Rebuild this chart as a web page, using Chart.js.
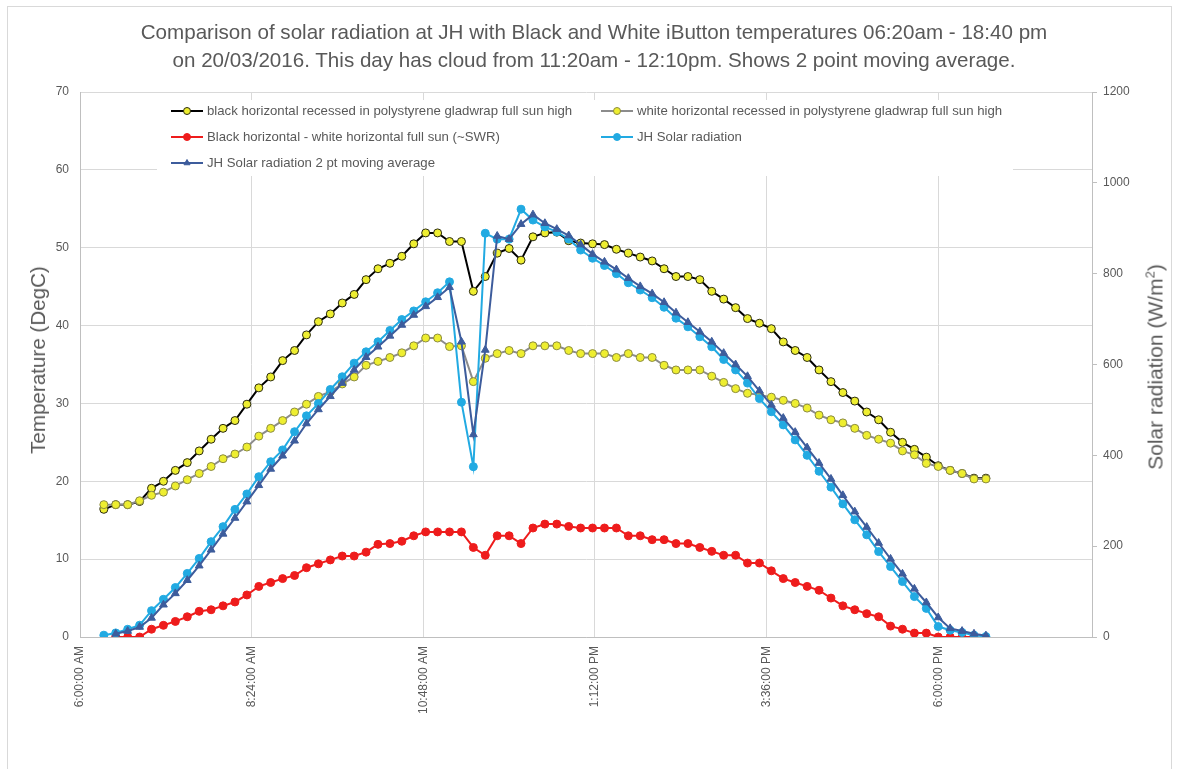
<!DOCTYPE html>
<html><head><meta charset="utf-8">
<script src="https://cdn.jsdelivr.net/npm/chart.js@4.4.1/dist/chart.umd.min.js"></script>
<style>
html,body{margin:0;padding:0;background:#fff;}
#wrap{position:relative;width:1178px;height:769px;overflow:hidden;background:#fff;}
#frame{position:absolute;left:7px;top:6px;width:1165px;height:770px;border:1px solid #d9d9d9;box-sizing:border-box;}
#c{position:absolute;left:0;top:0;}
.t{position:absolute;left:0;width:1188px;text-align:center;font-family:"Liberation Sans",Arial,sans-serif;font-size:20.6px;color:#595959;white-space:nowrap;line-height:28px;}
.ax{position:absolute;font-family:"Liberation Sans",Arial,sans-serif;font-size:20.6px;color:#595959;white-space:nowrap;transform:translate(-50%,-50%) rotate(-90deg);}
.ax sup{font-size:13px;}
</style></head>
<body><div id="wrap">
<div id="frame"></div>
<canvas id="c" width="1178" height="769"></canvas>
<div class="t" style="top:18px">Comparison of solar radiation at JH with Black and White iButton temperatures 06:20am - 18:40 pm</div>
<div class="t" style="top:46px">on 20/03/2016. This day has cloud from 11:20am - 12:10pm. Shows 2 point moving average.</div>
<div class="ax" style="left:38px;top:360px">Temperature (DegC)</div>
<div class="ax" style="left:1155px;top:367px;font-size:21px">Solar radiation (W/m<sup>2</sup>)</div>
</div>
<script>
const times = ["6:20","6:30","6:40","6:50",
"7:00","7:10","7:20","7:30","7:40","7:50",
"8:00","8:10","8:20","8:30","8:40","8:50",
"9:00","9:10","9:20","9:30","9:40","9:50",
"10:00","10:10","10:20","10:30","10:40","10:50",
"11:00","11:10","11:20","11:30","11:40","11:50",
"12:00","12:10","12:20","12:30","12:40","12:50",
"13:00","13:10","13:20","13:30","13:40","13:50",
"14:00","14:10","14:20","14:30","14:40","14:50",
"15:00","15:10","15:20","15:30","15:40","15:50",
"16:00","16:10","16:20","16:30","16:40","16:50",
"17:00","17:10","17:20","17:30","17:40","17:50",
"18:00","18:10","18:20","18:30","18:40"];

const blackTemp = [16.4,17.0,17.0,17.4,
19.1,20.0,21.4,22.4,23.9,25.4,
26.8,27.8,29.9,32.0,33.4,35.5,
36.8,38.8,40.5,41.5,42.9,44.0,
45.9,47.3,48.0,48.9,50.5,51.9,
51.9,50.8,50.8,44.4,46.3,49.3,
49.9,48.4,51.4,51.9,52.0,50.9,
50.6,50.5,50.4,49.8,49.3,48.8,
48.3,47.3,46.3,46.3,45.9,44.4,
43.4,42.3,40.9,40.3,39.6,37.9,
36.8,35.9,34.3,32.8,31.4,30.3,
28.9,27.9,26.3,25.0,24.1,23.1,
22.0,21.4,21.0,20.4,20.4];

const whiteTemp = [17.0,17.0,17.0,17.5,
18.2,18.6,19.4,20.2,21.0,21.9,
22.9,23.5,24.4,25.8,26.8,27.8,
28.9,29.9,30.9,31.5,32.5,33.4,
34.9,35.4,35.9,36.5,37.4,38.4,
38.4,37.3,37.4,32.8,35.8,36.4,
36.8,36.4,37.4,37.4,37.4,36.8,
36.4,36.4,36.4,35.9,36.4,35.9,
35.9,34.9,34.3,34.3,34.3,33.5,
32.7,31.9,31.3,31.1,30.8,30.4,
30.0,29.4,28.5,27.9,27.5,26.8,
25.9,25.4,24.9,23.9,23.4,22.3,
21.9,21.4,21.0,20.3,20.3];

const diffTemp = [null,0,0,0,
1.0,1.5,2.0,2.6,3.3,3.5,
4.0,4.5,5.4,6.5,7.0,7.5,
7.9,8.9,9.4,9.9,10.4,10.4,
10.9,11.9,12.0,12.3,13.0,13.5,
13.5,13.5,13.5,11.5,10.5,13.0,
13.0,12.0,14.0,14.5,14.5,14.2,
14.0,14.0,14.0,14.0,13.0,13.0,
12.5,12.5,12.0,12.0,11.5,11.0,
10.5,10.5,9.5,9.5,8.5,7.5,
7.0,6.5,6.0,5.0,4.0,3.5,
3.0,2.6,1.4,1.0,0.5,0.5,
0,0,0,0,null];

const solar = [4,9,17,26,
58,83,109,140,173,210,
243,281,315,353,386,412,
452,487,514,545,573,603,
628,650,675,699,718,738,
758,782,517,375,889,876,
876,942,918,903,892,876,
852,834,818,800,780,764,
747,726,702,683,661,639,
611,588,559,525,496,467,
434,400,365,330,293,258,
225,188,155,122,89,63,
23,15,10,4,1];

const solarAvg = [null,7,13,22,
42,71,96,125,157,192,
227,262,298,334,370,399,
432,470,501,530,559,588,
616,639,663,687,709,728,
748,770,650,446,632,883,
876,909,930,911,898,884,
864,843,826,809,790,772,
756,737,714,693,672,650,
625,600,574,542,511,482,
451,417,383,348,312,276,
242,207,172,139,106,76,
43,19,13,7,3];

const seriesNames = [
  "black horizontal recessed in polystyrene gladwrap full sun high",
  "white horizontal recessed in polystyrene gladwrap full sun high",
  "Black horizontal - white horizontal full sun (~SWR)",
  "JH Solar radiation",
  "JH Solar radiation 2 pt moving average"
];

const xTickValues = [360, 504, 648, 792, 936, 1080]; // 6:00 AM ... 6:00 PM, every 0.1 day
const axisMin = 360;      // 6:00 AM
const axisMax = 1209;     // ~8:09 PM

function toMin(s){const p=s.split(':');return (+p[0])*60+(+p[1]);}
function pts(arr){return times.map((t,i)=>({x:toMin(t),y:arr[i]}));}
function fmt(m){m=Math.round(m);let h=Math.floor(m/60),mm=m%60;const ap=h<12?'AM':'PM';let h12=h%12;if(h12===0)h12=12;return h12+':'+String(mm).padStart(2,'0')+':00 '+ap;}

const FONT = "'Liberation Sans', Arial, sans-serif";
const GREY = '#595959';

const ds = [
 {label:seriesNames[0],data:pts(blackTemp),yAxisID:'y',borderColor:'#000000',borderWidth:2,
  pointRadius:4,pointBackgroundColor:'#eeee30',pointBorderColor:'#2a2a10',pointBorderWidth:1,order:5},
 {label:seriesNames[1],data:pts(whiteTemp),yAxisID:'y',borderColor:'#8c8c8c',borderWidth:2,
  pointRadius:4,pointBackgroundColor:'#eeee30',pointBorderColor:'#8a8a40',pointBorderWidth:1,order:4},
 {label:seriesNames[2],data:pts(diffTemp),yAxisID:'y',borderColor:'#ee1c1c',borderWidth:2,
  pointRadius:4,pointBackgroundColor:'#ee1c1c',pointBorderColor:'#ee1c1c',pointBorderWidth:1,order:3},
 {label:seriesNames[3],data:pts(solar),yAxisID:'y2',borderColor:'#22aae2',borderWidth:2,
  pointRadius:4,pointBackgroundColor:'#22aae2',pointBorderColor:'#22aae2',pointBorderWidth:1,order:2},
 {label:seriesNames[4],data:pts(solarAvg),yAxisID:'y2',borderColor:'#3d5c9c',borderWidth:2,
  pointStyle:'triangle',pointRadius:4.5,pointBackgroundColor:'#3d5c9c',pointBorderColor:'#3d5c9c',pointBorderWidth:1,order:1}
];

const legendPlugin = {
  id:'boxLegend',
  afterDatasetsDraw(chart){
    const ctx = chart.ctx;
    ctx.save();
    ctx.fillStyle='#ffffff';
    ctx.fillRect(157,100,856,76);
    const spots = [[0,171,111],[1,601,111],[2,171,137],[3,601,137],[4,171,163]];
    ctx.font = "13.2px "+FONT;
    ctx.textBaseline='middle';
    spots.forEach(([k,x,y])=>{
      const d = chart.data.datasets[k];
      ctx.strokeStyle=d.borderColor; ctx.lineWidth=2;
      ctx.beginPath(); ctx.moveTo(x,y); ctx.lineTo(x+32,y); ctx.stroke();
      ctx.fillStyle=d.pointBackgroundColor; ctx.strokeStyle=d.pointBorderColor; ctx.lineWidth=1;
      Chart.helpers.drawPoint(ctx,{pointStyle:d.pointStyle||'circle',radius:3.5,rotation:0,borderWidth:1},x+16,y);
      ctx.fillStyle=GREY;
      ctx.fillText(d.label,x+36,y+0.5);
    });
    ctx.restore();
  }
};

new Chart(document.getElementById('c'),{
  type:'line',
  data:{datasets:ds},
  options:{
    responsive:false,animation:false,
    layout:{padding:{top:92,left:0,right:0,bottom:0}},
    plugins:{legend:{display:false},title:{display:false},tooltip:{enabled:false}},
    elements:{line:{tension:0}},
    scales:{
      x:{type:'linear',position:'bottom',min:axisMin,max:axisMax,
        afterBuildTicks:s=>{s.ticks=xTickValues.map(v=>({value:v}));},
        ticks:{autoSkip:false,maxRotation:90,minRotation:90,
          callback:v=>fmt(v),color:GREY,font:{family:FONT,size:12},padding:9},
        grid:{color:'#d9d9d9',drawTicks:false},border:{color:'#bfbfbf'},
        afterFit:s=>{s.height=132;}},
      y:{position:'left',min:0,max:70,
        ticks:{stepSize:10,color:GREY,font:{family:FONT,size:12},padding:11,callback:v=>String(v)},
        grid:{color:'#d9d9d9',drawTicks:false},border:{color:'#bfbfbf'},
        afterFit:s=>{s.width=80;}},
      y2:{position:'right',min:0,max:1200,
        ticks:{stepSize:200,color:GREY,font:{family:FONT,size:12},padding:6,callback:v=>String(v)},
        grid:{drawOnChartArea:false,color:'#bfbfbf',tickLength:5},border:{color:'#bfbfbf'},
        afterFit:s=>{s.width=86;}}
    }
  },
  plugins:[legendPlugin]
});
</script>
</body></html>
